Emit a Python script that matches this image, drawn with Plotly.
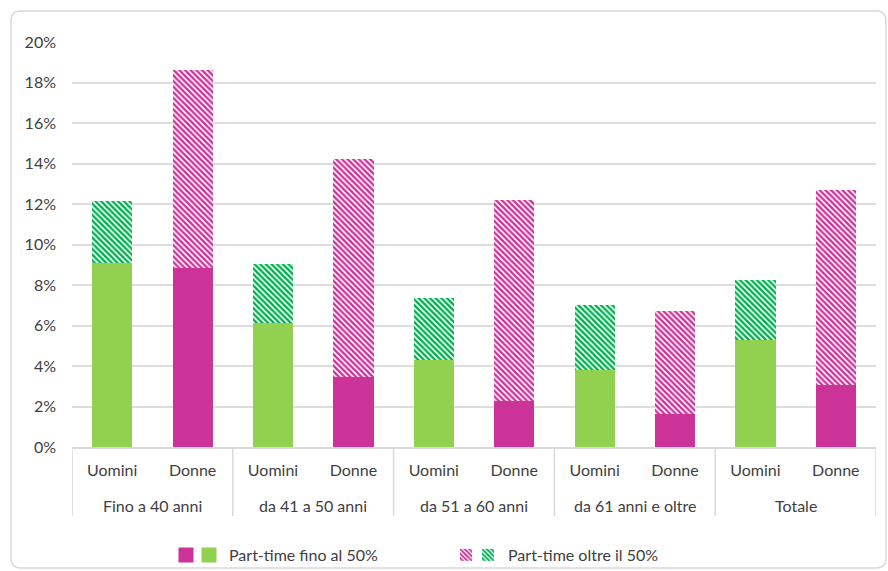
import plotly.graph_objects as go

groups = ["Fino a 40 anni", "da 41 a 50 anni", "da 51 a 60 anni", "da 61 anni e oltre", "Totale"]
sexes = ["Uomini", "Donne"]
uomini_fino50 = [9.1, 6.1, 4.3, 3.8, 5.3]
uomini_oltre50 = [3.05, 2.95, 3.05, 3.2, 2.95]
donne_fino50 = [8.85, 3.45, 2.25, 1.65, 3.05]
donne_oltre50 = [9.75, 10.75, 9.95, 5.05, 9.65]
y_ticks = [0, 2, 4, 6, 8, 10, 12, 14, 16, 18, 20]
y_tick_labels = [f"{v}%" for v in y_ticks]

PINK = "#CC3399"
GREEN = "#92D050"
GREEN_H = "#00B050"
TXT = "#404040"
LINE = "#D9D9D9"
FONT = "Lato"
FS = 16

W, H = 888, 571
L, R, T, B = 72, 12, 42, 124
PW, PH = W - L - R, H - T - B

xpos, xlab, solid, hatch, scol, hcol = [], [], [], [], [], []
for i, g in enumerate(groups):
    for j, s in enumerate(sexes):
        xpos.append(i * len(sexes) + j)
        xlab.append(s)
    solid += [uomini_fino50[i], donne_fino50[i]]
    hatch += [uomini_oltre50[i], donne_oltre50[i]]
    scol += [GREEN, PINK]
    hcol += [GREEN_H, PINK]

def hatch_pattern(fg, size=4):
    return dict(shape="\\", fgcolor=fg, bgcolor="white", size=size, solidity=0.6,
                fillmode="overlay", fgopacity=1)

fig = go.Figure()
fig.add_trace(go.Bar(x=xpos, y=solid, marker=dict(color=scol, line=dict(width=0)),
                     showlegend=False, hoverinfo="y"))
fig.add_trace(go.Bar(x=xpos, y=hatch,
                     marker=dict(color="white", line=dict(width=0), pattern=hatch_pattern(hcol)),
                     showlegend=False, hoverinfo="y"))

def px2x(px):
    return (px - L) / PW

def py2y(py):
    return (H - B - py) / PH

# legend entries
leg_specs = [
    ("legend", "", dict(color=PINK, line=dict(color=PINK, width=3)), 166),
    ("legend2", "Part-time fino al 50%", dict(color=GREEN, line=dict(color=GREEN, width=3)), 189),
    ("legend3", "", dict(color="white", line=dict(width=0), pattern=hatch_pattern(PINK, 4)), 446),
    ("legend4", "Part-time oltre il 50%", dict(color="white", line=dict(width=0), pattern=hatch_pattern(GREEN_H, 4)), 468),
]
legend_layouts = {}
for lg, name, mk, xpx in leg_specs:
    fig.add_trace(go.Bar(x=[0], y=[None], name=name if name else " ",
                         marker=mk, showlegend=True, legend=lg, hoverinfo="skip"))
    legend_layouts[lg] = dict(x=px2x(xpx), y=py2y(555), xanchor="left", yanchor="middle",
                              bgcolor="rgba(0,0,0,0)", font=dict(family=FONT, size=FS, color=TXT),
                              itemwidth=30, tracegroupgap=0)

# rounded frame
x0, x1, y0, y1, r = 11, 886, 11, 568, 10
def P(px, py):
    return f"{px2x(px):.5f},{py2y(py):.5f}"
path = (f"M{P(x0+r, y0)} L{P(x1-r, y0)} Q{P(x1, y0)} {P(x1, y0+r)} "
        f"L{P(x1, y1-r)} Q{P(x1, y1)} {P(x1-r, y1)} L{P(x0+r, y1)} "
        f"Q{P(x0, y1)} {P(x0, y1-r)} L{P(x0, y0+r)} Q{P(x0, y0)} {P(x0+r, y0)} Z")
shapes = [dict(type="path", xref="paper", yref="paper", path=path,
               line=dict(color=LINE, width=1.5), layer="below")]

# group dividers and group labels
n = len(sexes)
for i in range(len(groups) + 1):
    shapes.append(dict(type="line", xref="x", yref="paper", x0=i * n - 0.5, x1=i * n - 0.5,
                       y0=0, y1=py2y(516), line=dict(color=LINE, width=1.5)))
annotations = []
for i, g in enumerate(groups):
    annotations.append(dict(x=i * n + (n - 1) / 2, y=py2y(505), xref="x", yref="paper",
                            text=g, showarrow=False, xanchor="center", yanchor="middle",
                            font=dict(family=FONT, size=FS, color=TXT)))

fig.update_layout(
    width=W, height=H,
    margin=dict(l=L, r=R, t=T, b=B, autoexpand=False),
    paper_bgcolor="white", plot_bgcolor="white",
    barmode="stack", bargap=0.5,
    font=dict(family=FONT, size=FS, color=TXT),
    shapes=shapes, annotations=annotations,
    **legend_layouts,
)
fig.update_yaxes(range=[0, 20], tickmode="array", tickvals=y_ticks, ticktext=y_tick_labels,
                 showgrid=True, automargin=False,
                 gridcolor="#DDDDDD", gridwidth=2, zeroline=False, showline=False,
                 ticks="", tickfont=dict(family=FONT, size=FS, color=TXT), ticklabelstandoff=15)
fig.update_xaxes(range=[-0.5, len(xpos) - 0.5], tickmode="array", tickvals=xpos, ticktext=xlab,
                 automargin=False, showline=True, linecolor=LINE, linewidth=2,
                 showgrid=False, zeroline=False, ticks="", ticklabelstandoff=8,
                 tickfont=dict(family=FONT, size=FS, color=TXT))

fig.write_html("out.html")
